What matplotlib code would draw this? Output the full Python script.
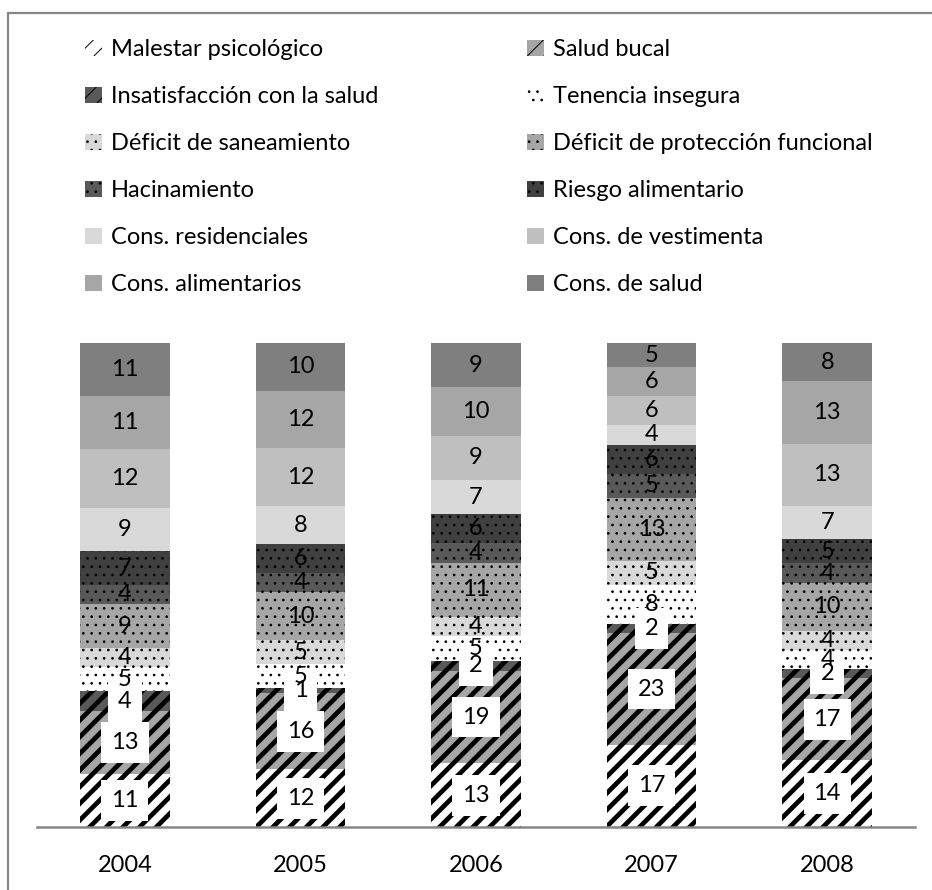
import matplotlib
matplotlib.use("Agg")
import matplotlib.pyplot as plt
import numpy as np
from matplotlib.patches import Patch, Rectangle

years = ['2004', '2005', '2006', '2007', '2008']
categories = ['Malestar psicológico', 'Salud bucal', 'Insatisfacción con la salud',
              'Tenencia insegura', 'Déficit de saneamiento', 'Déficit de protección funcional',
              'Hacinamiento', 'Riesgo alimentario', 'Cons. residenciales',
              'Cons. de vestimenta', 'Cons. alimentarios', 'Cons. de salud']

malestar = [11, 12, 13, 17, 14]
salud_bucal = [13, 16, 19, 23, 17]
insatisfaccion = [4, 1, 2, 2, 2]
tenencia = [5, 5, 5, 8, 4]
saneamiento = [4, 5, 4, 5, 4]
proteccion = [9, 10, 11, 13, 10]
hacinamiento = [4, 4, 4, 5, 4]
riesgo_alim = [7, 6, 6, 6, 5]
cons_resid = [9, 8, 7, 4, 7]
cons_vest = [12, 12, 9, 6, 13]
cons_alim = [11, 12, 10, 6, 13]
cons_salud = [11, 10, 9, 5, 8]

series = [malestar, salud_bucal, insatisfaccion, tenencia, saneamiento, proteccion,
          hacinamiento, riesgo_alim, cons_resid, cons_vest, cons_alim, cons_salud]

# fill colour, hatch, white label box
styles = [('#ffffff', '//', True), ('#a6a6a6', '//', True), ('#595959', '//', True),
          ('#ffffff', '..', False), ('#d9d9d9', '..', False), ('#a6a6a6', '..', False),
          ('#595959', '..', False), ('#404040', '..', False),
          ('#d9d9d9', None, False), ('#bfbfbf', None, False),
          ('#a6a6a6', None, False), ('#7f7f7f', None, False)]

plt.rcParams['font.family'] = ['Lato', 'DejaVu Sans']
fs = 17

W, H = 932, 890
fig = plt.figure(figsize=(W / 100, H / 100), dpi=100)
ax = fig.add_axes([37 / W, (H - 827) / H, 878 / W, 484 / H])

data = np.array(series, dtype=float)
totals = data.sum(axis=0)
shares = data / totals * 100  # 100% stacked

x = np.arange(len(years))
bottom = np.zeros(len(years))
handles = []
for vals, share, (color, hatch, boxed), name in zip(series, shares, styles, categories):
    if hatch == '//':
        plt.rcParams['hatch.linewidth'] = 3.4
    else:
        plt.rcParams['hatch.linewidth'] = 0.7
    bars = ax.bar(x, share, 0.51, bottom=bottom, color=color,
                  edgecolor='black' if hatch else color, linewidth=0, hatch=hatch)
    for xi, b, s, v in zip(x, bottom, share, vals):
        kw = {}
        if boxed:
            kw['bbox'] = dict(boxstyle='square,pad=0.42', fc='white', ec='none')
        ax.text(xi, b + s / 2, str(v), ha='center', va='center', fontsize=fs,
                color='black', **kw)
    bottom += share
    handles.append(Patch(facecolor=color, edgecolor='black' if hatch else color,
                         linewidth=0, hatch=hatch, label=name))

ax.set_xlim(-0.5, len(years) - 0.5)
ax.set_ylim(0, 100)
ax.set_xticks(x)
ax.set_xticklabels(years, fontsize=fs)
ax.tick_params(axis='x', length=0, pad=20)
ax.set_yticks([])
for side in ['left', 'right', 'top']:
    ax.spines[side].set_visible(False)
ax.spines['bottom'].set_color('#868686')
ax.spines['bottom'].set_linewidth(1.8)

order = [0, 2, 4, 6, 8, 10, 1, 3, 5, 7, 9, 11]
fig.legend([handles[i] for i in order], [categories[i] for i in order],
           ncol=2, loc='upper left', bbox_to_anchor=(64 / W, 1 - 18 / H),
           frameon=False, fontsize=fs, handlelength=0.7, handleheight=0.7,
           handletextpad=0.4, labelspacing=1.1, columnspacing=6.3)

# chart frame
fig.add_artist(Rectangle((8 / W, -0.1), 1.2, 1 - 13 / H + 0.1,
                         transform=fig.transFigure, fill=False,
                         edgecolor='#868686', linewidth=1.6))

fig.savefig('out.png', dpi=100)
